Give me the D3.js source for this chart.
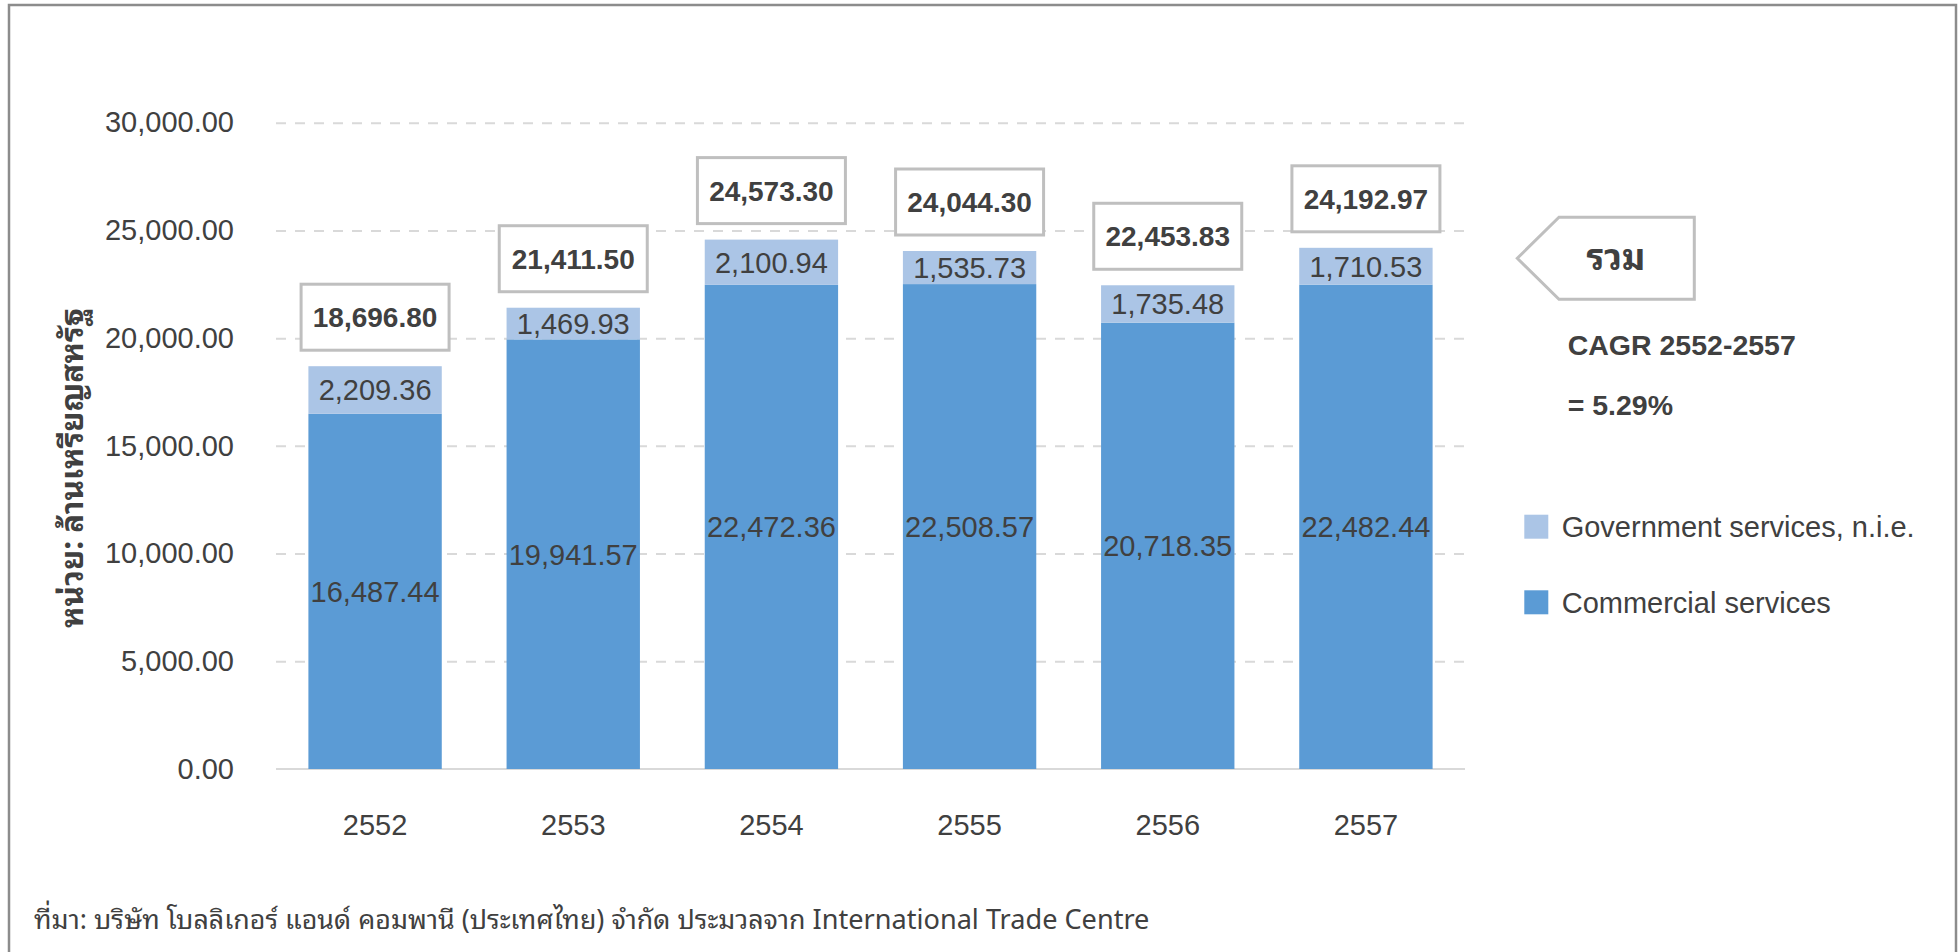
<!DOCTYPE html>
<html>
<head>
<meta charset="utf-8">
<script src="https://cdn.jsdelivr.net/npm/d3@7"></script>
<style>
  html, body { margin: 0; padding: 0; background: #ffffff; }
  svg { display: block; }
  .num { font-family: "Liberation Sans", Arial, sans-serif; }
  .thai { font-family: "Noto Sans Thai Looped", "Noto Sans Thai", Tahoma, "Leelawadee UI", "Liberation Sans", sans-serif; }
  .foot { font-family: "Liberation Sans Narrow", "Arial Narrow", "Noto Sans Thai Looped", "Noto Sans Thai", sans-serif; }
</style>
</head>
<body>
<svg id="chart" width="1959" height="952"></svg>
<script>
// ---------------- data ----------------
const years = ["2552", "2553", "2554", "2555", "2556", "2557"];
const commercial = [16487.44, 19941.57, 22472.36, 22508.57, 20718.35, 22482.44];
const government = [2209.36, 1469.93, 2100.94, 1535.73, 1735.48, 1710.53];
const seriesKeys = ["commercial", "government"];
const seriesNames = ["Government services, n.i.e.", "Commercial services"];
const yTicks = [0, 5000, 10000, 15000, 20000, 25000, 30000];
const yTitle = "หน่วย: ล้านเหรียญสหรัฐ";
const totalTag = "รวม";
const cagrLines = ["CAGR 2552-2557", "= 5.29%"];
const footerThai = "ที่มา: บริษัท โบลลิเกอร์ แอนด์ คอมพานี (ประเทศไทย) จำกัด ประมวลจาก ";
const footerLatin = "International Trade Centre";

// ---------------- setup ----------------
const svg = d3.select("#chart");
const colors = { commercial: "#5b9bd5", government: "#abc5e6" };
const textColor = "#404040";
const fs = 29;

const rows = years.map((yr, i) => ({ year: yr, commercial: commercial[i], government: government[i] }));
const stack = d3.stack().keys(seriesKeys)(rows);

const x = d3.scaleBand().domain(years).range([276, 1465]).paddingInner(0.327).paddingOuter(0.1635);
const y = d3.scaleLinear().domain([0, 30000]).range([769, 122.7]);
const fmt = d3.format(",.2f");

function fitWidth(sel, target) {
  const w = sel.node().getComputedTextLength();
  const cur = parseFloat(sel.attr("font-size"));
  if (w > 0) sel.attr("font-size", cur * target / w);
}

// outer frame
svg.append("rect").attr("x", 9).attr("y", 5).attr("width", 1947).attr("height", 980)
  .attr("fill", "none").attr("stroke", "#8c8c8c").attr("stroke-width", 2.5);

// gridlines
const grid = svg.append("g").attr("transform", "translate(276,0)")
  .call(d3.axisLeft(y).tickValues(yTicks.filter(d => d > 0)).tickSize(-(1465 - 276)).tickFormat(""));
grid.select(".domain").remove();
grid.selectAll("line").attr("stroke", "#d9d9d9").attr("stroke-width", 2).attr("stroke-dasharray", "10,9");

// baseline
svg.append("line").attr("x1", 276).attr("x2", 1465).attr("y1", y(0)).attr("y2", y(0))
  .attr("stroke", "#d9d9d9").attr("stroke-width", 2);

// y axis labels
const yAxis = svg.append("g").attr("transform", "translate(276,0)")
  .call(d3.axisLeft(y).tickValues(yTicks).tickFormat(fmt).tickSize(0).tickPadding(42));
yAxis.select(".domain").remove();
yAxis.selectAll("text").attr("font-size", fs).attr("fill", textColor)
  .attr("font-family", "Liberation Sans, Arial, sans-serif");

// x axis labels
const xAxis = svg.append("g").attr("transform", `translate(0,${y(0)})`)
  .call(d3.axisBottom(x).tickSize(0).tickPadding(45));
xAxis.select(".domain").remove();
xAxis.selectAll("text").attr("font-size", fs).attr("fill", textColor)
  .attr("font-family", "Liberation Sans, Arial, sans-serif");

// bars
const layers = svg.append("g").selectAll("g").data(stack).join("g")
  .attr("fill", d => colors[d.key]);
layers.selectAll("rect").data(d => d).join("rect")
  .attr("x", d => x(d.data.year))
  .attr("width", x.bandwidth())
  .attr("y", d => y(d[1]))
  .attr("height", d => y(d[0]) - y(d[1]));

// segment value labels
const segLabels = svg.append("g").attr("class", "num").attr("font-size", fs).attr("fill", textColor)
  .attr("text-anchor", "middle");
stack.forEach(layer => {
  segLabels.selectAll(null).data(layer).join("text")
    .attr("x", d => x(d.data.year) + x.bandwidth() / 2)
    .attr("y", d => (y(d[0]) + y(d[1])) / 2)
    .attr("dy", "0.36em")
    .text(d => fmt(d[1] - d[0]));
});

// total boxes
const totals = rows.map(r => ({ year: r.year, total: r.commercial + r.government }));
const boxW = 148, boxH = 66, boxGap = 16;
const tb = svg.append("g").selectAll("g").data(totals).join("g");
tb.append("rect")
  .attr("x", d => x(d.year) + x.bandwidth() / 2 - boxW / 2)
  .attr("y", d => y(d.total) - boxGap - boxH)
  .attr("width", boxW).attr("height", boxH)
  .attr("fill", "#ffffff").attr("stroke", "#bfbfbf").attr("stroke-width", 3);
tb.append("text").attr("class", "num")
  .attr("x", d => x(d.year) + x.bandwidth() / 2)
  .attr("y", d => y(d.total) - boxGap - boxH / 2)
  .attr("dy", "0.36em").attr("text-anchor", "middle")
  .attr("font-size", 28).attr("font-weight", "bold").attr("fill", textColor)
  .text(d => fmt(d.total));

// y axis title
const yt = svg.append("text").attr("class", "thai")
  .attr("transform", "translate(83,468) rotate(-90)")
  .attr("text-anchor", "middle").attr("font-weight", "bold")
  .attr("font-size", 30).attr("fill", textColor).text(yTitle);
fitWidth(yt, 320);

// callout "รวม"
svg.append("path")
  .attr("d", "M1517.3,258.3 L1559,217.3 L1694.3,217.3 L1694.3,299.3 L1559,299.3 Z")
  .attr("fill", "#ffffff").attr("stroke", "#bfbfbf").attr("stroke-width", 3);
const tt = svg.append("text").attr("class", "thai").attr("x", 1616).attr("y", 270)
  .attr("text-anchor", "middle").attr("font-weight", "bold").attr("font-size", 32)
  .attr("fill", textColor).text(totalTag);
fitWidth(tt, 59);

// CAGR
svg.append("g").attr("class", "num").attr("font-weight", "bold").attr("font-size", 28.5).attr("fill", textColor)
  .selectAll("text").data(cagrLines).join("text")
  .attr("x", 1567.7).attr("y", (d, i) => 345 + i * 60).attr("dy", "0.36em").text(d => d);

// legend
const legendY = [526.7, 602.3];
const lg = svg.append("g").selectAll("g").data(seriesNames).join("g");
lg.append("rect").attr("x", 1524.3).attr("y", (d, i) => legendY[i] - 12)
  .attr("width", 24).attr("height", 24)
  .attr("fill", (d, i) => i === 0 ? colors.government : colors.commercial);
lg.append("text").attr("class", "num").attr("x", 1561.7).attr("y", (d, i) => legendY[i])
  .attr("dy", "0.36em").attr("font-size", fs).attr("fill", textColor).text(d => d);

// footer
const ft = svg.append("text").attr("class", "foot").attr("x", 34).attr("y", 929).attr("fill", textColor);
const ft1 = ft.append("tspan").attr("font-size", 30).text(footerThai);
fitWidth(ft1, 772);
const ft2 = ft.append("tspan").attr("font-size", 34).text(footerLatin);
fitWidth(ft2, 337);
</script>
</body>
</html>
